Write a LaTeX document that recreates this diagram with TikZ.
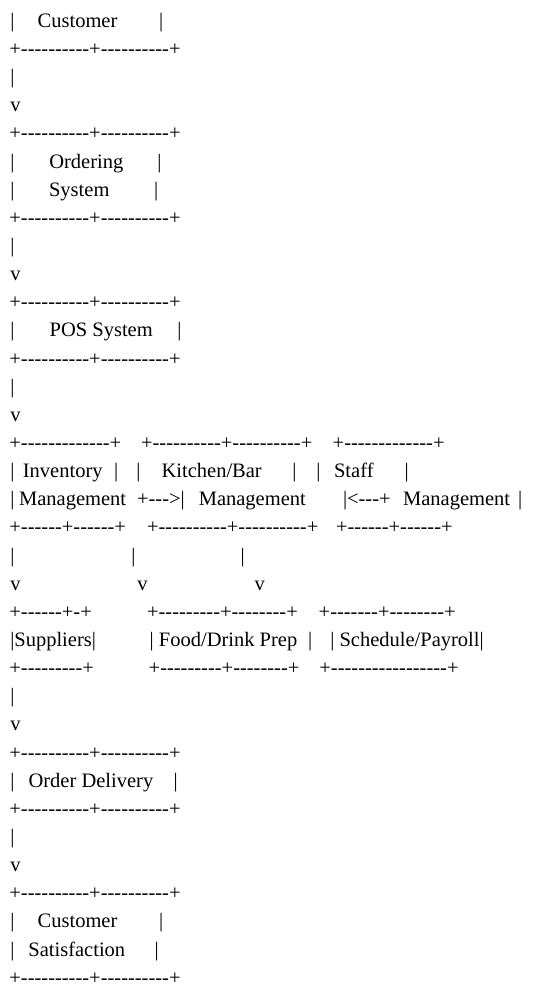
\documentclass[tikz,border=0pt]{standalone}
\usepackage{fontspec}
\newfontfamily\asciifont{Liberation Serif}[Ligatures=TeXOff]
\usepackage{tikz}
\tikzset{
  asciitext/.style={anchor=base west,inner sep=0pt,outer sep=0pt,text=black,font=\asciifont\fontsize{20.5}{24}\selectfont}
}

\begin{document}
\begin{tikzpicture}[x=1pt,y=-28.14pt]
\useasboundingbox (0,0.026) rectangle (549,35.03);
\node[asciitext] (cust-a) at (10.4,1) {|};
\node[asciitext] (cust) at (37.7,1) {Customer};
\node[asciitext] (cust-b) at (159,1) {|};
\node[asciitext] (rule1) at (9.4,2) {+----------+----------+};
\node[asciitext] (pipe1) at (10.4,3) {|};
\node[asciitext] (head1) at (10.4,4) {v};
\node[asciitext] (rule2) at (9.4,5) {+----------+----------+};
\node[asciitext] (ord-a) at (10.4,6) {|};
\node[asciitext] (ord1) at (49.3,6) {Ordering};
\node[asciitext] (ord-b) at (157.3,6) {|};
\node[asciitext] (ord-c) at (10.4,7) {|};
\node[asciitext] (ord2) at (49.1,7) {System};
\node[asciitext] (ord-d) at (154,7) {|};
\node[asciitext] (rule3) at (9.4,8) {+----------+----------+};
\node[asciitext] (pipe2) at (10.4,9) {|};
\node[asciitext] (head2) at (10.4,10) {v};
\node[asciitext] (rule4) at (9.4,11) {+----------+----------+};
\node[asciitext] (pos-a) at (10.4,12) {|};
\node[asciitext] (pos) at (49.7,12) {POS System};
\node[asciitext] (pos-b) at (177.3,12) {|};
\node[asciitext] (rule5) at (9.4,13) {+----------+----------+};
\node[asciitext] (pipe3) at (10.4,14) {|};
\node[asciitext] (head3) at (10.4,15) {v};
\node[asciitext] (inv-top) at (9.4,16) {+-------------+};
\node[asciitext] (kit-top) at (141.1,16) {+----------+----------+};
\node[asciitext] (stf-top) at (332.7,16) {+-------------+};
\node[asciitext] (inv-a) at (10.4,17) {|};
\node[asciitext] (inv1) at (22.9,17) {Inventory};
\node[asciitext] (inv-b) at (114,17) {|};
\node[asciitext] (kit-a) at (136.3,17) {|};
\node[asciitext] (kit1) at (161.6,17) {Kitchen/Bar};
\node[asciitext] (kit-b) at (292.3,17) {|};
\node[asciitext] (stf-a) at (316.3,17) {|};
\node[asciitext] (stf1) at (334.1,17) {Staff};
\node[asciitext] (stf-b) at (404.7,17) {|};
\node[asciitext] (inv-c) at (10.4,18) {|};
\node[asciitext] (inv2) at (19.1,18) {Management};
\node[asciitext] (inv2kit) at (137.1,18) {+--->|};
\node[asciitext] (kit2) at (198.8,18) {Management};
\node[asciitext] (stf2kit) at (343,18) {|<---+};
\node[asciitext] (stf2) at (403.1,18) {Management};
\node[asciitext] (stf-c) at (518,18) {|};
\node[asciitext] (inv-bot) at (9.4,19) {+------+------+};
\node[asciitext] (kit-bot) at (147.1,19) {+----------+----------+};
\node[asciitext] (stf-bot) at (336.1,19) {+------+------+};
\node[asciitext] (pipe4) at (10.4,20) {|};
\node[asciitext] (pipe5) at (131.3,20) {|};
\node[asciitext] (pipe6) at (240.7,20) {|};
\node[asciitext] (head4) at (10.4,21) {v};
\node[asciitext] (head5) at (137.3,21) {v};
\node[asciitext] (head6) at (254.6,21) {v};
\node[asciitext] (sup-top) at (9.4,22) {+------+-+};
\node[asciitext] (prep-top) at (147.1,22) {+---------+--------+};
\node[asciitext] (pay-top) at (318.7,22) {+-------+--------+};
\node[asciitext] (sup) at (10.3,23) {|Suppliers|};
\node[asciitext] (prep) at (149.7,23) {| Food/Drink Prep};
\node[asciitext] (prep-b) at (308,23) {|};
\node[asciitext] (pay) at (330.3,23) {| Schedule/Payroll|};
\node[asciitext] (sup-bot) at (9.4,24) {+---------+};
\node[asciitext] (prep-bot) at (148.7,24) {+---------+--------+};
\node[asciitext] (pay-bot) at (319.4,24) {+-----------------+};
\node[asciitext] (pipe7) at (10.4,25) {|};
\node[asciitext] (head7) at (10.4,26) {v};
\node[asciitext] (rule6) at (9.4,27) {+----------+----------+};
\node[asciitext] (del-a) at (10.4,28) {|};
\node[asciitext] (del) at (28.6,28) {Order Delivery};
\node[asciitext] (del-b) at (173.7,28) {|};
\node[asciitext] (rule7) at (9.4,29) {+----------+----------+};
\node[asciitext] (pipe8) at (10.4,30) {|};
\node[asciitext] (head8) at (10.4,31) {v};
\node[asciitext] (rule8) at (9.4,32) {+----------+----------+};
\node[asciitext] (sat-a) at (10.4,33) {|};
\node[asciitext] (sat1) at (37.7,33) {Customer};
\node[asciitext] (sat-b) at (159,33) {|};
\node[asciitext] (sat-c) at (10.4,34) {|};
\node[asciitext] (sat2) at (28.4,34) {Satisfaction};
\node[asciitext] (sat-d) at (154.7,34) {|};
\node[asciitext] (rule9) at (9.4,35) {+----------+----------+};
\end{tikzpicture}
\end{document}
